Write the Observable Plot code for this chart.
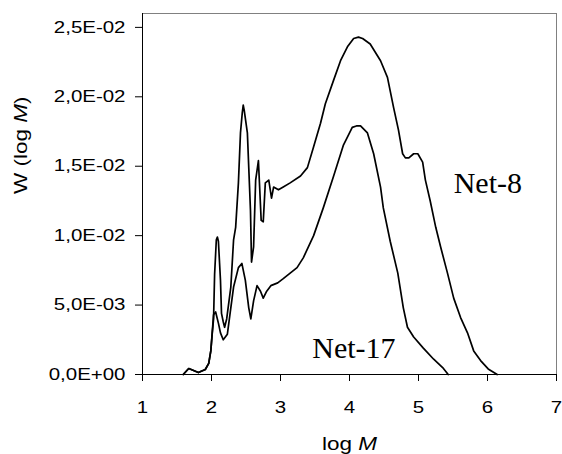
<!DOCTYPE html>
<html>
<head>
<meta charset="utf-8">
<script src="https://cdn.jsdelivr.net/npm/d3@7"></script>
<script src="https://cdn.jsdelivr.net/npm/@observablehq/plot@0.6"></script>
<style>
  body { margin: 0; background: #fff; }
</style>
</head>
<body>
<div id="chart"></div>
<script>
// Molecular weight distributions W(log M) of two networks
const logM8 = [1.59,1.67,1.81,1.91,1.96,1.99,2.01,2.03,2.045,2.07,2.085,2.10,2.13,2.145,2.17,2.19,2.22,2.28,2.32,2.35,2.39,2.42,2.445,2.46,2.475,2.52,2.54,2.565,2.58,2.61,2.64,2.68,2.72,2.75,2.78,2.83,2.87,2.90,2.97,3.04,3.14,3.29,3.39,3.48,3.58,3.65,3.77,3.87,3.97,4.06,4.13,4.19,4.30,4.45,4.55,4.64,4.71,4.77,4.81,4.86,4.93,4.99,5.06,5.10,5.17,5.25,5.32,5.42,5.51,5.61,5.71,5.80,5.90,6.01,6.14];
const w8 = [0,0.00043,0.00014,0.00036,0.0008,0.0017,0.0029,0.0040,0.0072,0.0097,0.0099,0.0096,0.0068,0.0044,0.0038,0.0034,0.0040,0.0063,0.0097,0.0106,0.0138,0.0174,0.0188,0.0194,0.0190,0.0174,0.0149,0.0118,0.0081,0.0092,0.0140,0.0154,0.0111,0.0110,0.0138,0.0140,0.0127,0.0135,0.0133,0.0135,0.0138,0.0143,0.0149,0.0164,0.0181,0.0195,0.0212,0.0226,0.0236,0.0242,0.0243,0.0242,0.0238,0.0226,0.0214,0.0192,0.0176,0.0159,0.0156,0.0156,0.0159,0.0159,0.0153,0.0140,0.0125,0.0106,0.0092,0.0073,0.0055,0.0041,0.0030,0.0017,0.0010,0.0004,0];

const logM17 = [1.59,1.67,1.81,1.91,1.96,1.99,2.01,2.03,2.06,2.10,2.13,2.17,2.23,2.28,2.32,2.39,2.44,2.49,2.54,2.57,2.61,2.66,2.71,2.75,2.80,2.86,2.96,3.04,3.14,3.24,3.33,3.48,3.62,3.77,3.91,4.04,4.10,4.16,4.26,4.35,4.45,4.49,4.59,4.70,4.78,4.84,4.93,5.07,5.22,5.35,5.43];
const w17 = [0,0.00043,0.00014,0.00036,0.0008,0.0017,0.0030,0.0043,0.0045,0.0037,0.0030,0.0025,0.0029,0.0048,0.0063,0.0077,0.0080,0.0068,0.0048,0.0040,0.0053,0.0064,0.0060,0.0055,0.0060,0.0064,0.0066,0.0069,0.0073,0.0077,0.0084,0.0100,0.0120,0.0143,0.0165,0.0178,0.0179,0.0179,0.0174,0.0159,0.0135,0.0120,0.0096,0.0073,0.0048,0.0034,0.0027,0.0019,0.0011,0.0005,0];

const xTicks = [1, 2, 3, 4, 5, 6, 7];
const yTicks = [0, 0.005, 0.010, 0.015, 0.020, 0.025];
const yTickLabels = ["0,0E+00", "5,0E-03", "1,0E-02", "1,5E-02", "2,0E-02", "2,5E-02"];

const seriesNames = ["Net-8", "Net-17"];
const labelX = [5.51, 3.46];
const labelY = [0.0138, 0.0019];

const xTitle = "log M";
const yTitle = "W (log M)";

const rows = [
  ...logM8.map((x, i) => ({series: "Net-8", x, w: w8[i]})),
  ...logM17.map((x, i) => ({series: "Net-17", x, w: w17[i]}))
];

const sans = "'Liberation Sans', Arial, sans-serif";
const serif = "'Liberation Serif', 'Times New Roman', serif";

const chart = Plot.plot({
  width: 562,
  height: 454,
  marginLeft: 142,
  marginRight: 6,
  marginTop: 13,
  marginBottom: 80,
  x: {domain: [1, 7]},
  y: {domain: [0, 0.026]},
  style: {fontFamily: sans, fontSize: "16px", color: "#000", background: "#fff"},
  marks: [
    Plot.ruleY([0.026], {stroke: "#808080"}),
    Plot.ruleX([7], {stroke: "#808080"}),
    Plot.axisX({ticks: xTicks, tickSize: 7, tickPadding: 20, label: null, tickFormat: d => String(d)}),
    Plot.axisY({ticks: yTicks, tickSize: 7, tickPadding: 10, label: null,
      tickFormat: d => yTickLabels[yTicks.indexOf(d)]}),
    Plot.ruleX([1], {stroke: "#000"}),
    Plot.ruleY([0], {stroke: "#000"}),
    Plot.line(rows, {x: "x", y: "w", z: "series", stroke: "#000", strokeWidth: 1.7}),
    Plot.text(seriesNames, {
      x: (d, i) => labelX[i], y: (d, i) => labelY[i], text: d => d,
      textAnchor: "start", fontFamily: serif, fontSize: 30
    }),
    Plot.text([xTitle], {frameAnchor: "bottom", lineAnchor: "bottom", dy: 75, fontSize: 18}),
    Plot.text([yTitle], {frameAnchor: "left", dx: -121, rotate: -90, fontSize: 18})
  ]
});

document.getElementById("chart").append(chart);

const svg = d3.select(chart);
const byText = s => svg.selectAll("text").filter(function () { return this.textContent === s; });

// widen the sans-serif labels along their baseline
function widen(sel, s) {
  sel.each(function () {
    const t = d3.select(this);
    let tr = t.attr("transform");
    if (!tr) {
      const x = +t.attr("x") || 0, y = +t.attr("y") || 0;
      t.attr("x", null).attr("y", null);
      tr = `translate(${x},${y})`;
    }
    t.attr("transform", `${tr} scale(${s},1)`);
  });
}
widen(svg.selectAll("g[aria-label='x-axis tick label'] text"), 1.28);
widen(svg.selectAll("g[aria-label='y-axis tick label'] text"), 1.28);

const xt = byText(xTitle), yt = byText(yTitle);
widen(xt, 1.25);
widen(yt, 1.25);
// italic M in the axis titles
xt.html("log <tspan font-style='italic'>M</tspan>");
yt.html("W (log <tspan font-style='italic'>M</tspan>)");
</script>
</body>
</html>
